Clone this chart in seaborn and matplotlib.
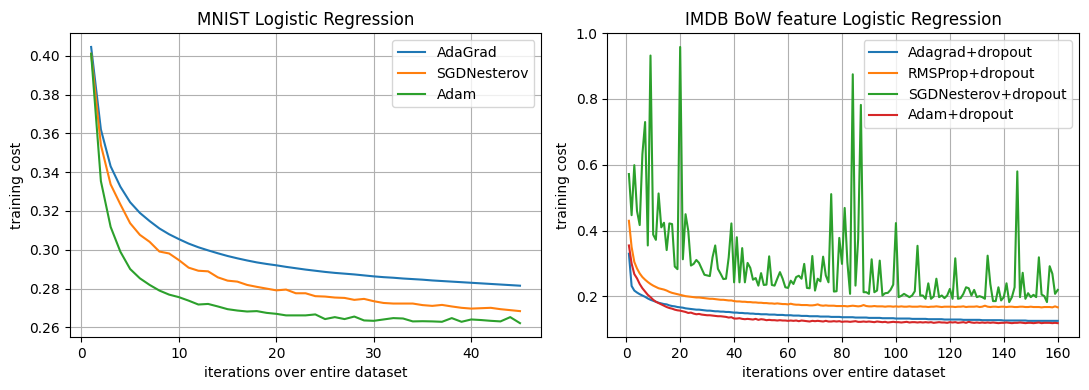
import matplotlib
matplotlib.use("Agg")
import matplotlib.pyplot as plt
import seaborn as sns
import numpy as np

# ---------------- Left panel: MNIST Logistic Regression ----------------
mnist_iters = list(range(1, 46))
mnist_adagrad = [0.4045, 0.362, 0.343, 0.3325, 0.3245, 0.319, 0.3148, 0.311, 0.308, 0.3055,
                 0.3032, 0.3013, 0.2997, 0.2982, 0.2968, 0.2956, 0.2945, 0.2935, 0.2927, 0.2920,
                 0.2912, 0.2905, 0.2898, 0.2892, 0.2886, 0.2881, 0.2877, 0.2873, 0.2868, 0.2863,
                 0.2859, 0.2856, 0.2852, 0.2849, 0.2846, 0.2842, 0.2839, 0.2836, 0.2833, 0.2830,
                 0.2827, 0.2824, 0.2821, 0.2818, 0.2815]
mnist_sgdnesterov = [0.401, 0.354, 0.3337, 0.3234, 0.3137, 0.3077, 0.3041, 0.2991, 0.2981, 0.2947,
                     0.2908, 0.2892, 0.2889, 0.2858, 0.2841, 0.2836, 0.2819, 0.2809, 0.2800, 0.2791,
                     0.2795, 0.2776, 0.2776, 0.2761, 0.2759, 0.2754, 0.2752, 0.2742, 0.2747, 0.2735,
                     0.2726, 0.2723, 0.2723, 0.2723, 0.2715, 0.2711, 0.2716, 0.2708, 0.2701, 0.2697,
                     0.2699, 0.2701, 0.2694, 0.2689, 0.2684]
mnist_adam = [0.401, 0.3354, 0.3118, 0.299, 0.2901, 0.2853, 0.2819, 0.279, 0.2769, 0.2756,
              0.2738, 0.2718, 0.2721, 0.2708, 0.2694, 0.2687, 0.2682, 0.2684, 0.2675, 0.2670,
              0.2662, 0.2662, 0.2662, 0.2667, 0.2643, 0.2653, 0.2643, 0.2656, 0.2636, 0.2634,
              0.2641, 0.2648, 0.2646, 0.2631, 0.2632, 0.2631, 0.2629, 0.2648, 0.2629, 0.2641,
              0.2638, 0.2634, 0.2631, 0.2653, 0.2622]

# ---------------- Right panel: IMDB BoW Logistic Regression ----------------
imdb_iters = list(range(1, 161))
imdb_adagrad = [0.330, 0.232, 0.218, 0.212, 0.207, 0.203, 0.199, 0.194, 0.190, 0.187,
                0.184, 0.181, 0.179, 0.177, 0.176, 0.173, 0.171, 0.170, 0.168, 0.167,
                0.166, 0.164, 0.163, 0.162, 0.161, 0.160, 0.160, 0.159, 0.158, 0.157,
                0.157, 0.156, 0.155, 0.155, 0.154, 0.154, 0.153, 0.153, 0.152, 0.151,
                0.151, 0.150, 0.150, 0.149, 0.149, 0.148, 0.148, 0.147, 0.147, 0.146,
                0.146, 0.146, 0.145, 0.145, 0.145, 0.144, 0.144, 0.144, 0.143, 0.143,
                0.143, 0.142, 0.142, 0.142, 0.141, 0.141, 0.141, 0.140, 0.140, 0.140,
                0.140, 0.139, 0.139, 0.139, 0.139, 0.138, 0.138, 0.138, 0.138, 0.137,
                0.137, 0.137, 0.137, 0.137, 0.136, 0.136, 0.136, 0.136, 0.136, 0.135,
                0.135, 0.135, 0.135, 0.135, 0.134, 0.134, 0.134, 0.134, 0.134, 0.133,
                0.133, 0.133, 0.133, 0.133, 0.133, 0.132, 0.132, 0.132, 0.132, 0.132,
                0.132, 0.131, 0.131, 0.131, 0.131, 0.131, 0.131, 0.130, 0.130, 0.130,
                0.130, 0.130, 0.130, 0.130, 0.129, 0.129, 0.129, 0.129, 0.129, 0.129,
                0.129, 0.128, 0.128, 0.128, 0.128, 0.128, 0.128, 0.128, 0.128, 0.127,
                0.127, 0.127, 0.127, 0.127, 0.127, 0.127, 0.127, 0.127, 0.126, 0.126,
                0.126, 0.126, 0.126, 0.126, 0.126, 0.126, 0.126, 0.126, 0.126, 0.126]
imdb_rmsprop = [0.430, 0.350, 0.305, 0.285, 0.270, 0.259, 0.251, 0.244, 0.238, 0.233,
                0.229, 0.225, 0.223, 0.221, 0.218, 0.214, 0.211, 0.209, 0.207, 0.205,
                0.203, 0.201, 0.200, 0.199, 0.198, 0.197, 0.197, 0.196, 0.195, 0.194,
                0.193, 0.193, 0.192, 0.191, 0.190, 0.190, 0.189, 0.188, 0.188, 0.186,
                0.185, 0.185, 0.184, 0.184, 0.183, 0.183, 0.182, 0.182, 0.181, 0.181,
                0.180, 0.180, 0.179, 0.179, 0.178, 0.179, 0.178, 0.177, 0.177, 0.176,
                0.178, 0.176, 0.175, 0.175, 0.174, 0.174, 0.174, 0.173, 0.173, 0.174,
                0.176, 0.173, 0.172, 0.173, 0.172, 0.172, 0.172, 0.171, 0.171, 0.171,
                0.171, 0.170, 0.171, 0.172, 0.171, 0.170, 0.171, 0.174, 0.171, 0.170,
                0.170, 0.171, 0.170, 0.170, 0.170, 0.169, 0.170, 0.170, 0.169, 0.170,
                0.169, 0.170, 0.169, 0.169, 0.170, 0.169, 0.169, 0.169, 0.170, 0.169,
                0.169, 0.168, 0.169, 0.169, 0.170, 0.169, 0.168, 0.169, 0.169, 0.169,
                0.169, 0.168, 0.169, 0.169, 0.170, 0.168, 0.169, 0.169, 0.169, 0.170,
                0.168, 0.169, 0.172, 0.169, 0.168, 0.169, 0.169, 0.168, 0.169, 0.169,
                0.168, 0.169, 0.169, 0.168, 0.168, 0.169, 0.169, 0.168, 0.168, 0.169,
                0.168, 0.168, 0.168, 0.167, 0.168, 0.168, 0.168, 0.167, 0.170, 0.167]
imdb_sgdnesterov = [0.572, 0.447, 0.599, 0.460, 0.417, 0.632, 0.730, 0.355, 0.932, 0.388,
                    0.372, 0.513, 0.410, 0.424, 0.341, 0.422, 0.420, 0.291, 0.283, 0.958,
                    0.313, 0.450, 0.400, 0.294, 0.299, 0.311, 0.302, 0.284, 0.266, 0.264,
                    0.262, 0.319, 0.355, 0.284, 0.269, 0.253, 0.254, 0.319, 0.422, 0.243,
                    0.380, 0.243, 0.347, 0.243, 0.302, 0.287, 0.251, 0.256, 0.233, 0.271,
                    0.235, 0.236, 0.322, 0.235, 0.233, 0.254, 0.274, 0.254, 0.228, 0.226,
                    0.248, 0.238, 0.259, 0.263, 0.254, 0.299, 0.226, 0.225, 0.323, 0.218,
                    0.254, 0.246, 0.321, 0.264, 0.243, 0.511, 0.215, 0.216, 0.378, 0.299,
                    0.469, 0.304, 0.208, 0.875, 0.233, 0.375, 0.782, 0.213, 0.213, 0.208,
                    0.313, 0.213, 0.218, 0.309, 0.203, 0.210, 0.211, 0.220, 0.236, 0.423,
                    0.198, 0.202, 0.208, 0.203, 0.198, 0.203, 0.216, 0.354, 0.203, 0.203,
                    0.193, 0.240, 0.193, 0.200, 0.254, 0.198, 0.203, 0.195, 0.203, 0.223,
                    0.193, 0.316, 0.193, 0.195, 0.208, 0.228, 0.225, 0.203, 0.220, 0.198,
                    0.201, 0.198, 0.193, 0.324, 0.238, 0.186, 0.186, 0.228, 0.188, 0.198,
                    0.240, 0.183, 0.198, 0.228, 0.580, 0.198, 0.272, 0.193, 0.210, 0.198,
                    0.205, 0.198, 0.319, 0.206, 0.201, 0.183, 0.292, 0.269, 0.208, 0.220]
imdb_adam = [0.355, 0.300, 0.268, 0.255, 0.238, 0.225, 0.215, 0.205, 0.198, 0.190,
             0.184, 0.180, 0.176, 0.172, 0.168, 0.165, 0.163, 0.160, 0.158, 0.157,
             0.155, 0.153, 0.150, 0.151, 0.148, 0.146, 0.147, 0.145, 0.144, 0.143,
             0.143, 0.142, 0.141, 0.140, 0.140, 0.139, 0.138, 0.136, 0.137, 0.133,
             0.133, 0.134, 0.132, 0.131, 0.132, 0.131, 0.130, 0.132, 0.129, 0.131,
             0.130, 0.128, 0.129, 0.128, 0.128, 0.127, 0.128, 0.127, 0.127, 0.126,
             0.127, 0.126, 0.127, 0.125, 0.127, 0.126, 0.125, 0.124, 0.126, 0.125,
             0.126, 0.125, 0.124, 0.126, 0.124, 0.124, 0.125, 0.124, 0.125, 0.123,
             0.124, 0.124, 0.123, 0.124, 0.125, 0.123, 0.123, 0.124, 0.123, 0.124,
             0.123, 0.122, 0.124, 0.123, 0.122, 0.123, 0.121, 0.122, 0.123, 0.122,
             0.122, 0.121, 0.122, 0.123, 0.121, 0.122, 0.122, 0.121, 0.122, 0.121,
             0.122, 0.121, 0.122, 0.120, 0.121, 0.122, 0.121, 0.121, 0.120, 0.122,
             0.121, 0.122, 0.120, 0.121, 0.122, 0.120, 0.123, 0.121, 0.120, 0.121,
             0.120, 0.121, 0.120, 0.121, 0.120, 0.121, 0.120, 0.119, 0.120, 0.120,
             0.121, 0.120, 0.119, 0.120, 0.120, 0.121, 0.120, 0.119, 0.120, 0.120,
             0.119, 0.120, 0.121, 0.119, 0.120, 0.120, 0.120, 0.119, 0.120, 0.119]

colors = sns.color_palette("tab10")

fig, (ax1, ax2) = plt.subplots(1, 2, figsize=(10.89, 3.9), dpi=100)

sns.lineplot(x=mnist_iters, y=mnist_adagrad, ax=ax1, color=colors[0], label="AdaGrad")
sns.lineplot(x=mnist_iters, y=mnist_sgdnesterov, ax=ax1, color=colors[1], label="SGDNesterov")
sns.lineplot(x=mnist_iters, y=mnist_adam, ax=ax1, color=colors[2], label="Adam")
ax1.set_title("MNIST Logistic Regression")
ax1.set_xlabel("iterations over entire dataset")
ax1.set_ylabel("training cost")
ax1.grid(True)
ax1.legend(loc="upper right")

sns.lineplot(x=imdb_iters, y=imdb_adagrad, ax=ax2, color=colors[0], label="Adagrad+dropout")
sns.lineplot(x=imdb_iters, y=imdb_rmsprop, ax=ax2, color=colors[1], label="RMSProp+dropout")
sns.lineplot(x=imdb_iters, y=imdb_sgdnesterov, ax=ax2, color=colors[2], label="SGDNesterov+dropout")
sns.lineplot(x=imdb_iters, y=imdb_adam, ax=ax2, color=colors[3], label="Adam+dropout")
ax2.set_title("IMDB BoW feature Logistic Regression")
ax2.set_xlabel("iterations over entire dataset")
ax2.set_ylabel("training cost")
ax2.set_ylim(top=1.0)
ax2.grid(True)
ax2.legend(loc="upper right")

fig.subplots_adjust(left=0.064, right=0.991, bottom=0.136, top=0.915, wspace=0.14)
fig.savefig("out.png", dpi=100)
